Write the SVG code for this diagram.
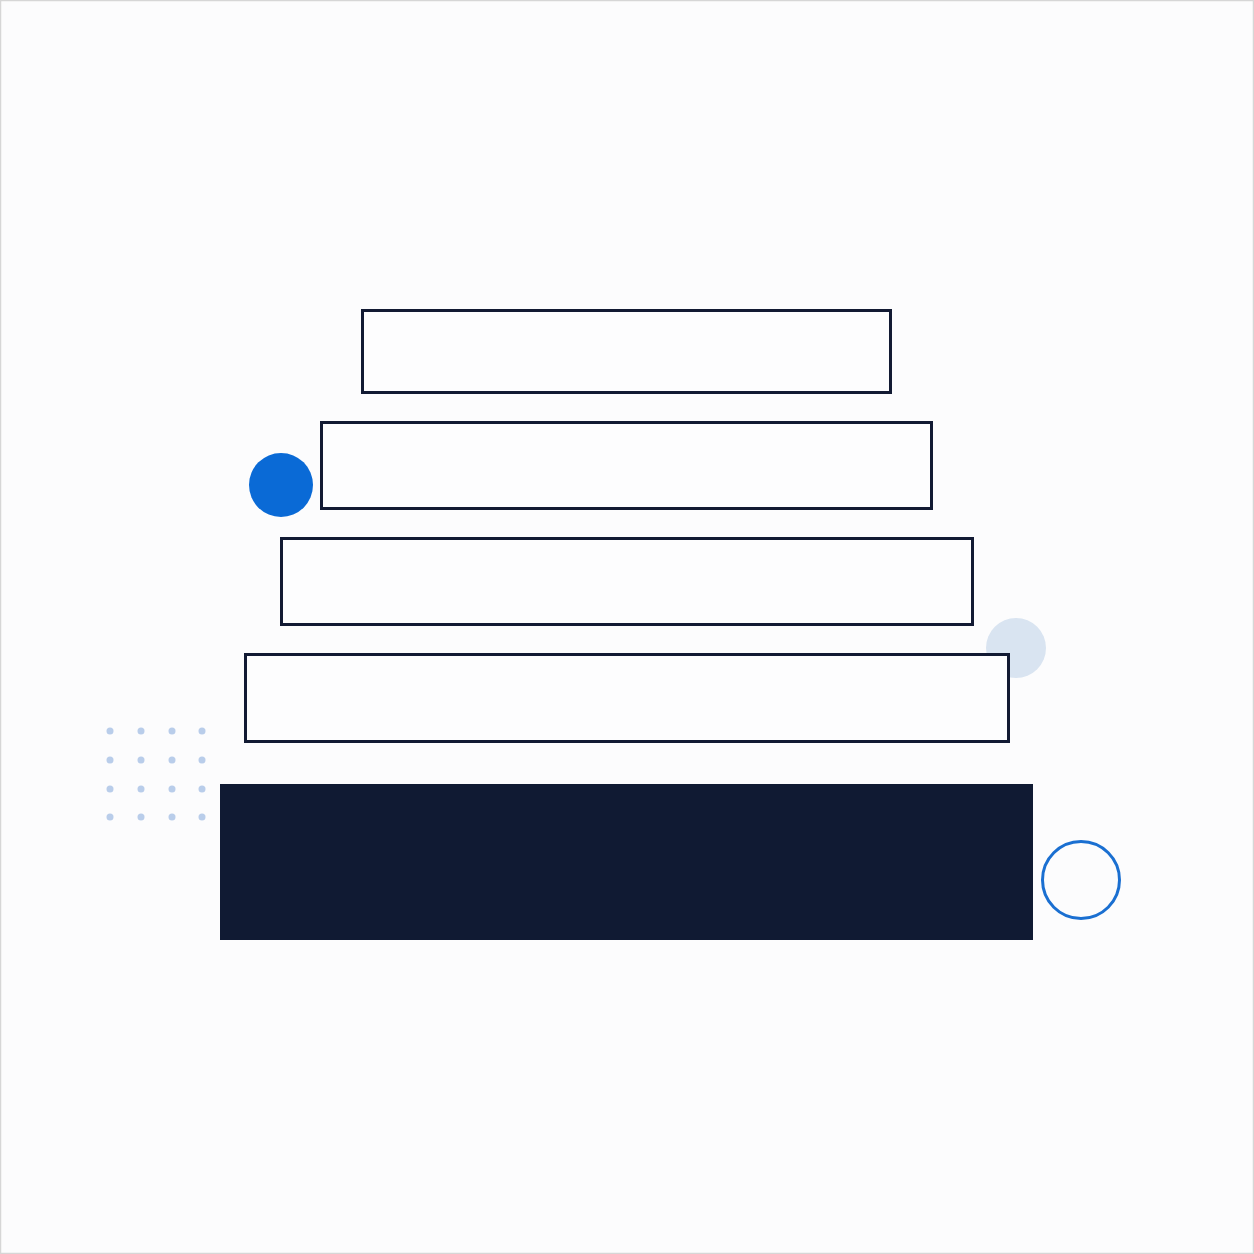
<svg xmlns="http://www.w3.org/2000/svg" width="1254" height="1254" viewBox="0 0 1254 1254">
<style>
.tier{fill:#fdfdfe;stroke:#121a33;stroke-width:3}
.dot{fill:#b9cdea}
</style>
<rect x="0.5" y="0.5" width="1253" height="1253" fill="#fcfcfd" stroke="#d6d6d6" stroke-width="1.5"/>
<g id="dots">
<circle class="dot" cx="110" cy="731" r="3.5"/><circle class="dot" cx="141" cy="731" r="3.5"/><circle class="dot" cx="172" cy="731" r="3.5"/><circle class="dot" cx="202" cy="731" r="3.5"/>
<circle class="dot" cx="110" cy="760" r="3.5"/><circle class="dot" cx="141" cy="760" r="3.5"/><circle class="dot" cx="172" cy="760" r="3.5"/><circle class="dot" cx="202" cy="760" r="3.5"/>
<circle class="dot" cx="110" cy="789" r="3.5"/><circle class="dot" cx="141" cy="789" r="3.5"/><circle class="dot" cx="172" cy="789" r="3.5"/><circle class="dot" cx="202" cy="789" r="3.5"/>
<circle class="dot" cx="110" cy="817" r="3.5"/><circle class="dot" cx="141" cy="817" r="3.5"/><circle class="dot" cx="172" cy="817" r="3.5"/><circle class="dot" cx="202" cy="817" r="3.5"/>
</g>
<g id="accent-light"><circle cx="1016" cy="648" r="30" fill="#d9e4f1"/></g>
<g id="tier1"><rect class="tier" x="362.5" y="310.5" width="528" height="82"/></g>
<g id="tier2"><rect class="tier" x="321.5" y="422.5" width="610" height="86"/></g>
<g id="tier3"><rect class="tier" x="281.5" y="538.5" width="691" height="86"/></g>
<g id="tier4"><rect class="tier" x="245.5" y="654.5" width="763" height="87"/></g>
<g id="tier5"><rect x="220" y="784" width="813" height="156" fill="#101a33"/></g>
<g id="accent-blue"><circle cx="281" cy="485" r="32" fill="#0a6ad6"/></g>
<g id="accent-ring"><circle cx="1081" cy="880" r="38.5" fill="none" stroke="#1a6fd1" stroke-width="3"/></g>
<g id="connectors"/>
</svg>
